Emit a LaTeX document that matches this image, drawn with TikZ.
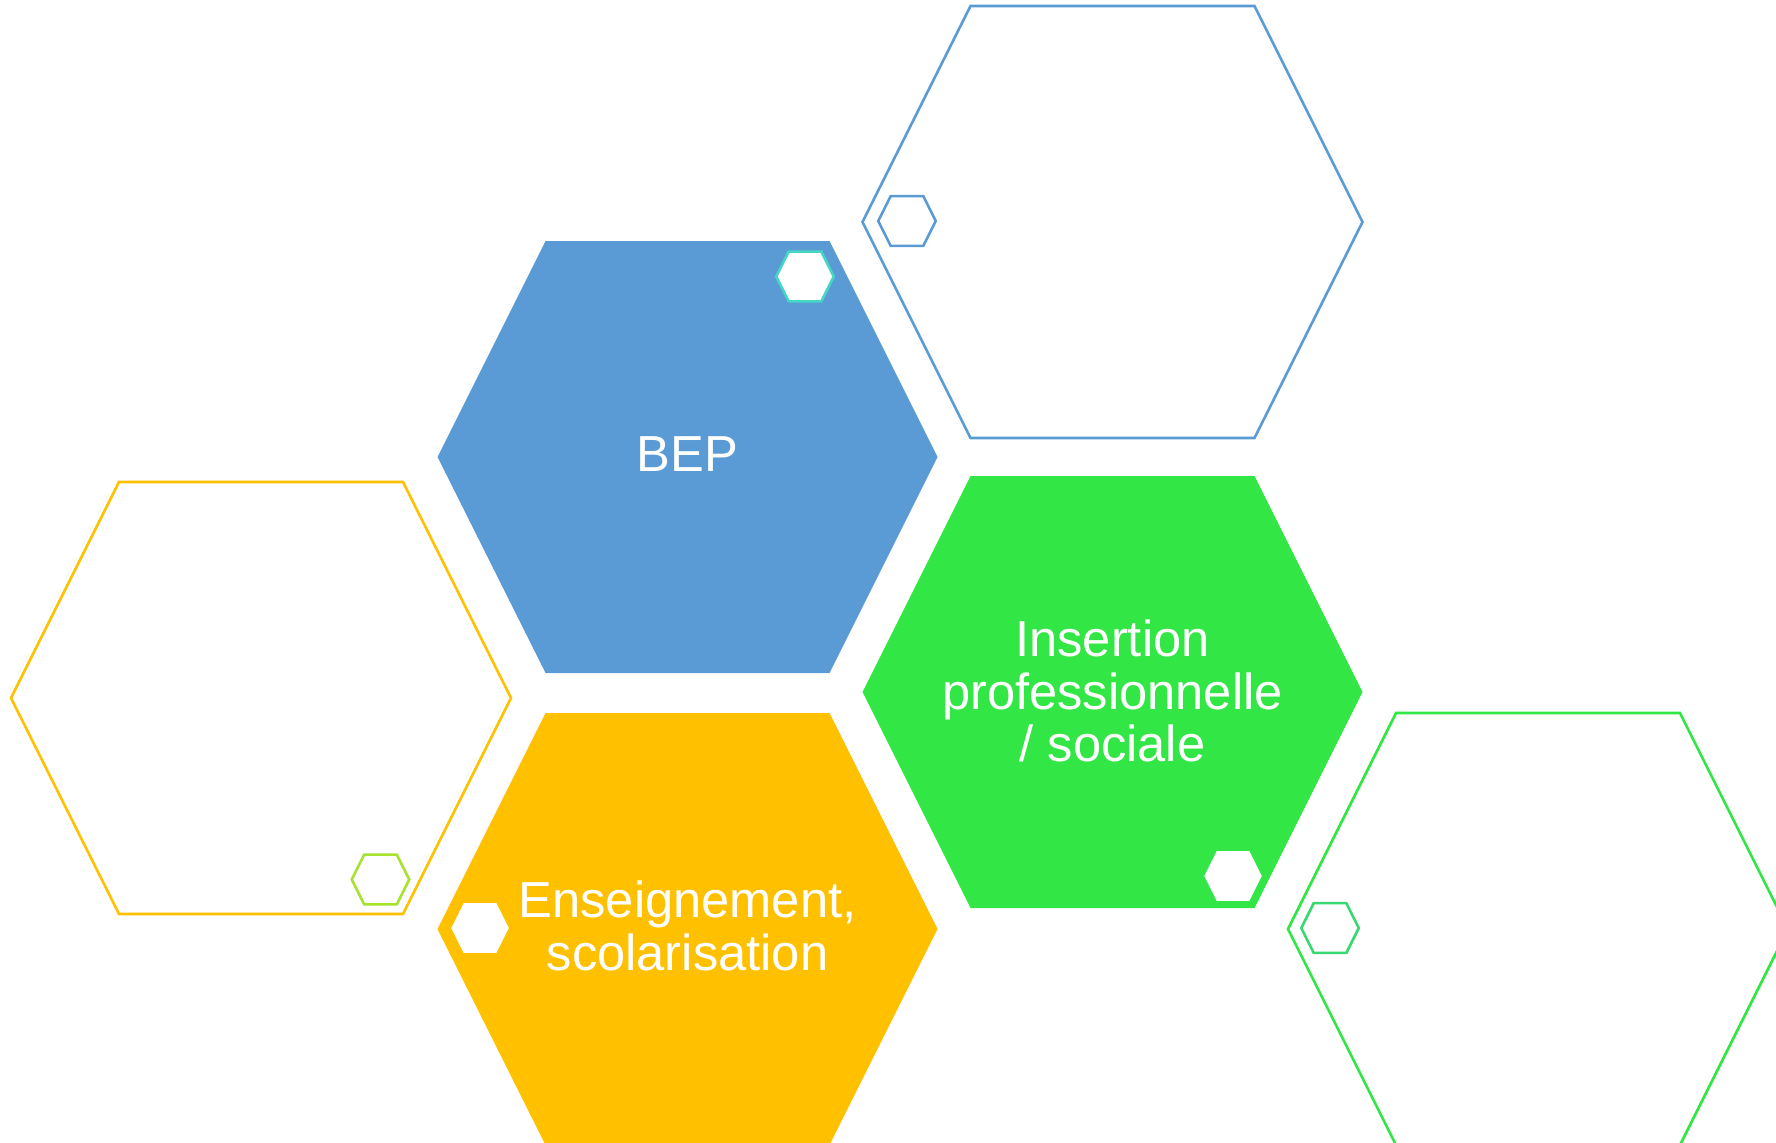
\documentclass[tikz,border=0pt]{standalone}
\usepackage{fontspec}
\setmainfont{Liberation Sans}
\usepackage{tikz}

\definecolor{bepblue}{HTML}{5B9BD5}
\definecolor{eduyellow}{HTML}{FFC000}
\definecolor{insgreen}{HTML}{32E646}
\definecolor{turq}{HTML}{45D6C4}
\definecolor{limeline}{HTML}{A6E22E}
\definecolor{greenline}{HTML}{3AD872}

\tikzset{hexa/.pic={
  \path[pic actions] (-250,0) -- (-142,216) -- (142,216) -- (250,0)
                     -- (142,-216) -- (-142,-216) -- cycle;}}

\begin{document}
\begin{tikzpicture}[x=0.01cm,y=-0.01cm,line width=0.75pt,
                    hextext/.style={text=white,align=center,
                      font=\fontsize{14.4}{15}\selectfont},
                    small/.style={scale=0.115}]

 \useasboundingbox (0,0) rectangle (1776,1142);
 \clip (0,0) rectangle (1776,1142);

 % large hexagons
 \pic[draw=bepblue]    at (1112.5,222) {hexa};
 \pic[fill=bepblue]    at (687.5,457)  {hexa};
 \pic[draw=eduyellow]  at (261,698)    {hexa};
 \pic[fill=eduyellow]  at (687.5,929)  {hexa};
 \pic[fill=insgreen]   at (1112.5,692) {hexa};
 \pic[draw=insgreen]   at (1538,929)   {hexa};

 % small hexagons
 \pic[small,draw=bepblue]          at (907,221)     {hexa};
 \pic[small,fill=white,draw=turq]  at (805,276.5)   {hexa};
 \pic[small,draw=limeline]         at (380.5,879.5) {hexa};
 \pic[small,fill=white]            at (480,928)     {hexa};
 \pic[small,fill=white]            at (1233,876)    {hexa};
 \pic[small,draw=greenline]        at (1330,928)    {hexa};

 \node[hextext] (bep)          at (687.5,454)  {BEP};
 \node[hextext] (insertion)    at (1112.5,691) {Insertion\\professionnelle\\/ sociale};
 \node[hextext] (enseignement) at (687.5,926)  {Enseignement,\\scolarisation};

\end{tikzpicture}
\end{document}
